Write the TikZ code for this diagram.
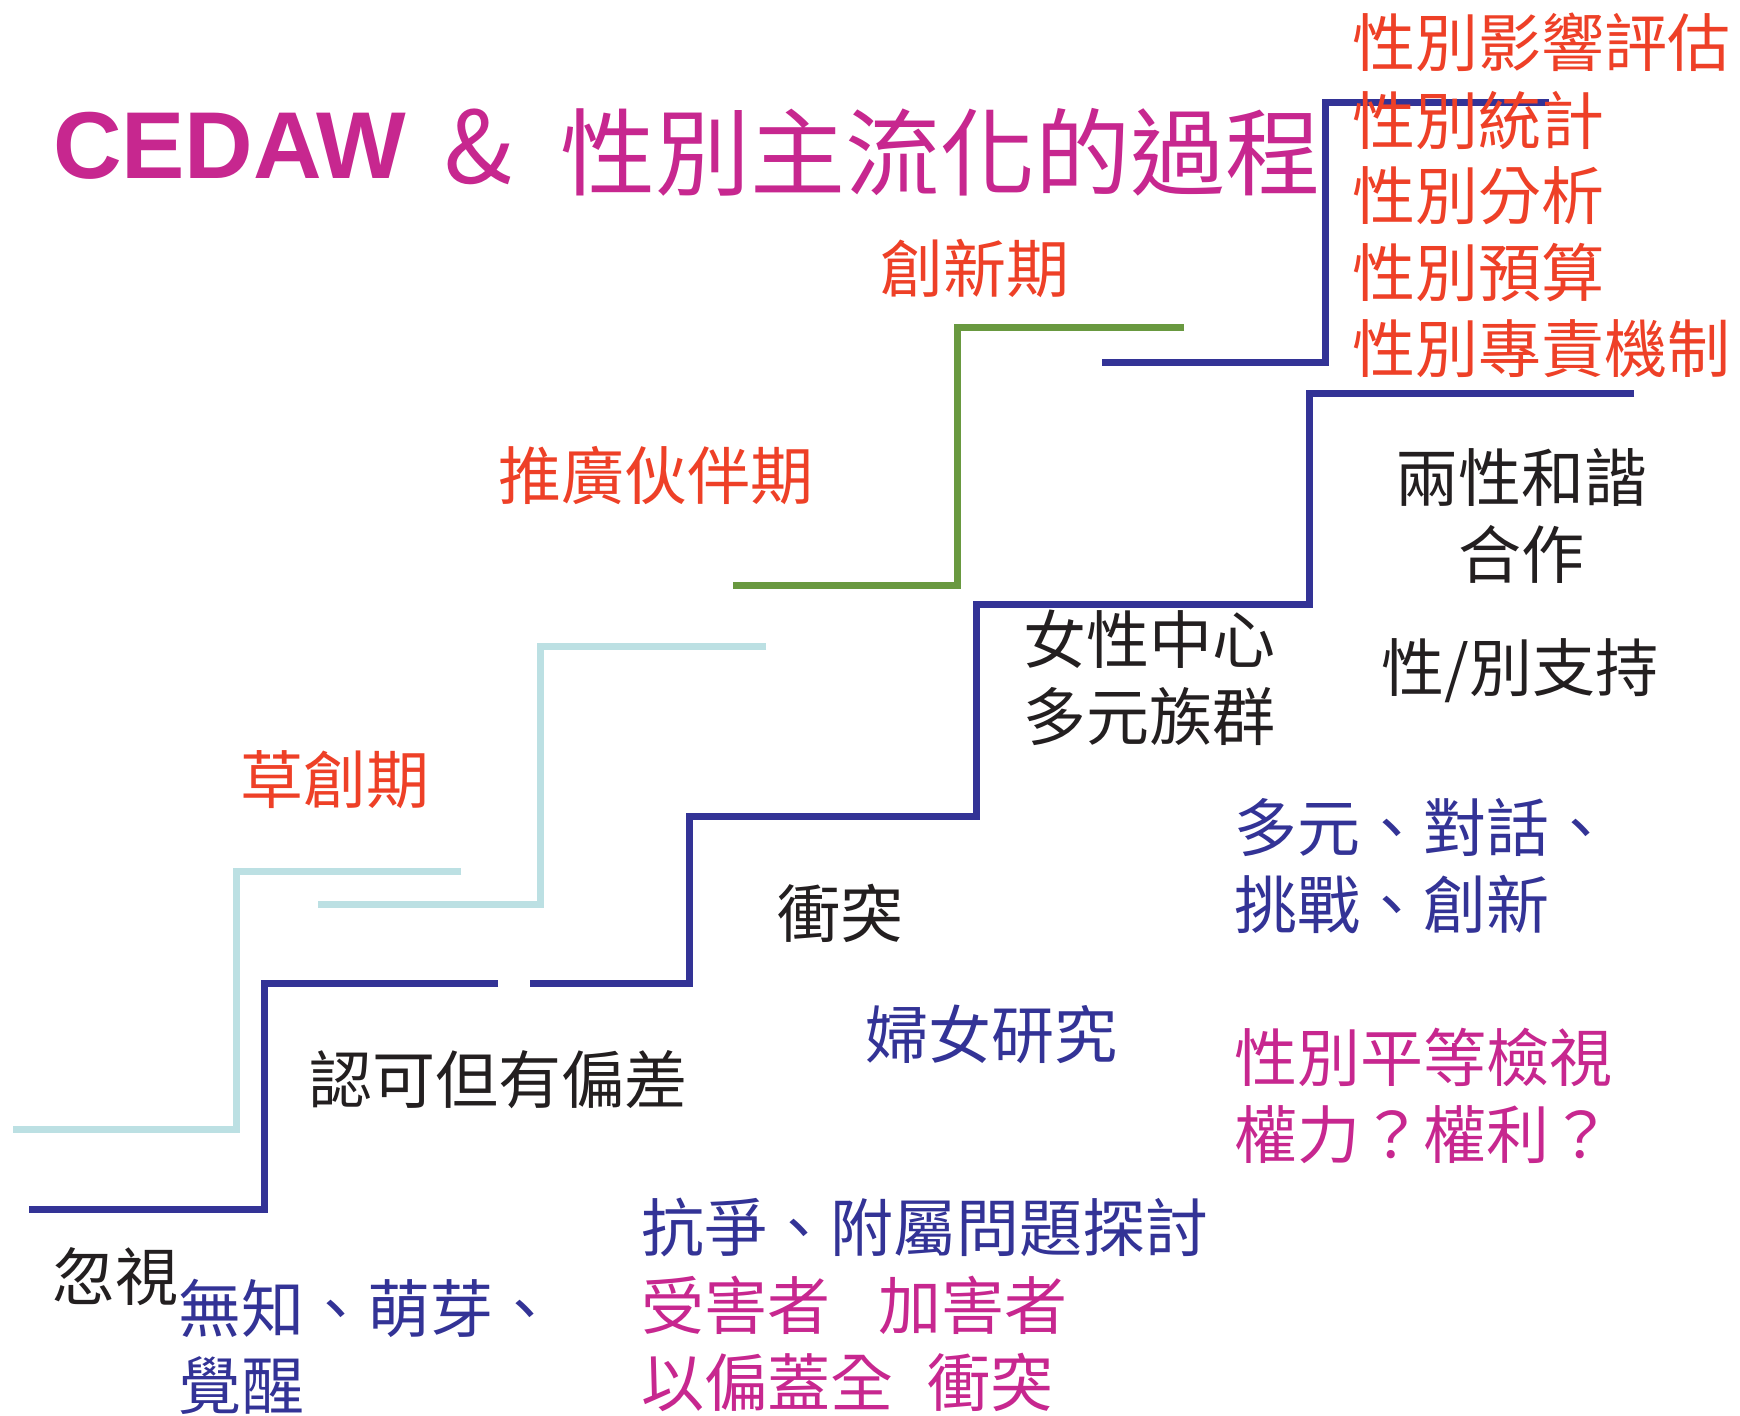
\documentclass[tikz,border=0pt]{standalone}
\usepackage{fontspec}
\setmainfont{Noto Sans CJK TC}
\newfontfamily\latinsans{Liberation Sans}
\definecolor{cmag}{RGB}{199,39,143}
\definecolor{cred}{RGB}{238,64,39}
\definecolor{cblue}{RGB}{51,51,150}
\definecolor{cblack}{RGB}{35,31,32}
\definecolor{cgreen}{RGB}{105,153,64}
\definecolor{clight}{RGB}{188,224,227}
\begin{document}
\begin{tikzpicture}[x=1pt,y=-1pt,
  txt/.style={inner sep=0pt, outer sep=0pt, font=\fontsize{63}{77}\selectfont, align=left, anchor=base west},
  ctxt/.style={txt, align=center, anchor=base},
  stair/.style={line width=7pt, line join=miter, line cap=butt}]
\useasboundingbox (0,0) rectangle (1740,1416);
\fill[white] (0,0) rectangle (1740,1416);

% stairs
\draw[stair, cblue] (1102,362) -- (1325,362) -- (1325,102) -- (1549,102);
\draw[stair, cblue] (1634,393) -- (1309,393) -- (1309,604) -- (976,604) -- (976,816) -- (689,816) -- (689,983) -- (530,983);
\draw[stair, cblue] (498,983) -- (264,983) -- (264,1209) -- (29,1209);
\draw[stair, cgreen] (1184,327) -- (957,327) -- (957,585) -- (733,585);
\draw[stair, clight] (766,646) -- (540,646) -- (540,904) -- (318,904);
\draw[stair, clight] (461,871) -- (236,871) -- (236,1129) -- (13,1129);

% title
\node[txt, cmag, font=\latinsans\bfseries\fontsize{95}{100}\selectfont] (cedaw) at (53,178) {CEDAW};
\node[txt, cmag, font=\fontsize{100}{100}\selectfont] (amp) at (444,183) {\&};
\node[txt, cmag, font=\fontsize{95}{100}\selectfont] (title) at (560,188) {性別主流化的過程};

% right column
\node[txt, cred] (r1) at (1352,66) {性別影響評估};
\node[txt, cred] (r2) at (1352,144) {性別統計};
\node[txt, cred] (r3) at (1352,219) {性別分析};
\node[txt, cred] (r4) at (1352,296) {性別預算};
\node[txt, cred] (r5) at (1352,372) {性別專責機制};

% phase labels
\node[ctxt, cred] (p4) at (975,292) {創新期};
\node[ctxt, cred] (p3) at (656,499) {推廣伙伴期};
\node[ctxt, cred] (p1) at (335,803) {草創期};

% black stage labels (multi-line nodes: base = last line)
\node[ctxt, cblack] (s5) at (1521,578) {兩性和諧\\合作};
\node[ctxt, cblack] (s5b) at (1520,691) {性/別支持};
\node[txt, cblack] (s4) at (1023,740) {女性中心\\多元族群};
\node[ctxt, cblack] (s3) at (840,937) {衝突};
\node[ctxt, cblack] (s2) at (498,1103) {認可但有偏差};
\node[txt, cblack] (s1) at (52,1300) {忽視};

% blue / magenta descriptions
\node[txt, cblue] (d4) at (1234,928) {多元、對話、\\挑戰、創新};
\node[txt, cmag] (d4b) at (1234,1158) {性別平等檢視\\權力？權利？};
\node[ctxt, cblue] (d3) at (991,1058) {婦女研究};
\node[txt, cblue] (d1) at (178,1409) {無知、萌芽、\\覺醒};
\node[txt, cblue] (d2) at (641,1251) {抗爭、附屬問題探討};
\node[txt, cmag] (d2b) at (641,1329) {受害者\hspace{0.77em}加害者};
\node[txt, cmag] (d2c) at (641,1406) {以偏蓋全\hspace{0.55em}衝突};
\end{tikzpicture}
\end{document}
